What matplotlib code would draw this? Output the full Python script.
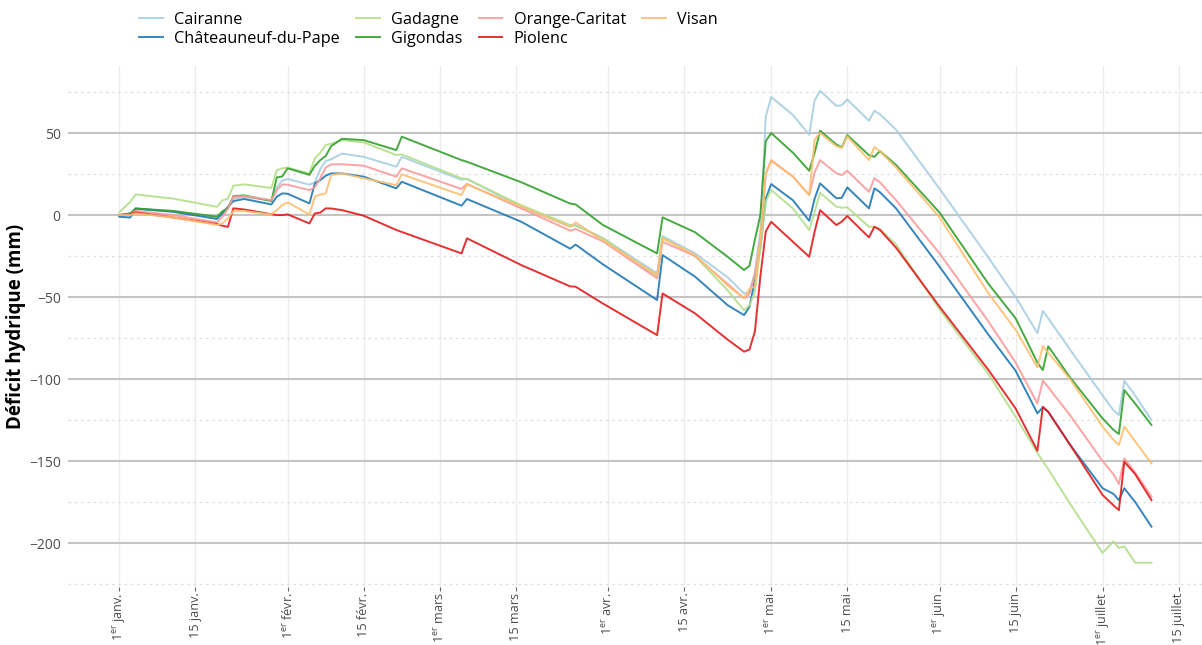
import numpy as np
import pandas as pd
import matplotlib
matplotlib.use("Agg")
import matplotlib.pyplot as plt
from matplotlib.lines import Line2D

plt.rcParams['font.family'] = ['Open Sans', 'DejaVu Sans']
plt.rcParams['mathtext.fontset'] = 'custom'
plt.rcParams['mathtext.rm'] = 'Open Sans'
plt.rcParams['mathtext.it'] = 'Open Sans:italic'

# days since 1 January (at the break points)
jours = [0, 2, 3, 10, 18, 19, 20, 21, 23, 28, 29, 30, 31, 35, 36, 37, 38, 39, 41, 45,
         51, 52, 63, 64, 74, 83, 84, 89, 99, 100, 106, 112, 115, 116, 117, 118, 119, 120,
         124, 127, 128, 129, 132, 133, 134, 138, 139, 140, 143, 151, 160, 165, 169, 170,
         171, 175, 181, 183, 184, 185, 187, 190]

cairanne = [0, 1, 3.5, 2, -1.5, 1, 5, 10, 11, 9, 17, 21, 22, 18.5, 20, 28, 33, 34, 37.5, 35.5,
            29.5, 35.5, 21.5, 22, 5, -7, -6, -14, -35.5, -12.8, -23.4, -38, -47.8, -47, -35, -10, 60, 72,
            61, 49, 70, 75.8, 66.5, 67, 70.5, 57.5, 63.6, 61.5, 52, 16, -26, -50, -72, -58.5,
            -63, -82, -110, -119, -122, -101, -110, -125]
chateauneuf = [-1, -1.5, 4, 2, -2.4, 1, 5, 8.5, 9.8, 6.5, 11.2, 13.2, 13, 7.1, 19.3, 21.3, 24, 25.4, 25.4, 23.4,
               16.3, 20.3, 5.7, 9.8, -4.1, -20.5, -18, -30, -51.8, -24.4, -37.6, -55, -61, -56, -39.6, -20, 10, 18.9,
               9, -3.5, 10, 19.3, 10.2, 10.5, 16.9, 4.1, 16.3, 14, 4, -31.5, -73, -95, -120.9, -117.3,
               -120, -140, -166.6, -170, -173.8, -166.6, -175, -190]
gadagne = [1.6, 8, 12.6, 10, 5, 9, 10, 17.9, 18.7, 16.5, 27.4, 28.5, 28.9, 25.4, 34.6, 38, 42.7, 43.5, 45.7, 44.3,
           36.6, 37, 22.4, 22, 6, -6.1, -6.5, -14, -37.6, -13.5, -25, -46, -58, -55, -46.7, -20, 8, 15.3,
           4, -9.1, 2, 13.6, 5.1, 4.5, 4.7, -7.1, -7.3, -8.5, -18, -57.5, -97, -123, -145, -150,
           -155, -176, -206, -199, -203, -202, -212, -212]
gigondas = [0, 1, 4, 2.5, -1, 2.4, 4, 11.5, 12, 8.5, 23, 23.5, 28.5, 24.5, 30, 33.5, 36, 42, 46.5, 45.7,
            39.6, 47.8, 33.5, 32.5, 20, 7, 6.5, -6, -23.4, -1.4, -10.5, -25.5, -33.5, -31, -15, 0, 45, 50,
            38, 27, 38, 51.4, 43, 41.3, 48.8, 36.5, 35.5, 39, 30.5, 1.5, -42, -63, -90, -94.5,
            -80, -99, -124, -131, -133.5, -106.7, -115, -128]
orange_caritat = [0, 0.5, 2.5, 0, -4.5, -1, 4, 11, 11.6, 9.1, 15.2, 18.7, 18.5, 15.2, 17, 22.4, 29, 30.9, 31, 30.1,
                  23.4, 28.5, 15.9, 19, 4, -9.5, -8.5, -16, -38.6, -16.3, -25, -42, -50.8, -48, -36, -15, 25, 33.5,
                  23.4, 12.2, 26, 33.5, 25.5, 24.4, 27, 14.2, 22.4, 20, 9, -23.4, -65, -90, -114.8, -101,
                  -105, -122, -150, -158, -164, -148.4, -157, -171.7]
piolenc = [0, 0.5, 1.6, -1.5, -5.5, -6.5, -7.2, 4.1, 3.4, 0.5, 0, 0, 0.4, -5.1, 1, 1.5, 4.1, 4, 3, -0.4,
           -9.1, -10.3, -23.4, -14.2, -30.5, -43.5, -43.7, -53.9, -73.2, -47.8, -60, -76, -83.3, -82, -71, -37.6, -10, -4.1,
           -16.3, -25.4, -10, 3, -6.1, -4, -0.6, -13.6, -7.1, -9, -20, -55.9, -94.5, -118, -143.7, -116.9,
           -120, -140, -170.7, -177, -179.9, -150.4, -158, -173.8]
visan = [0, 0, 1, -1.5, -6, -5, -2, 2.4, 2.4, 0.4, 3, 6.1, 7.7, 0.4, 11.2, 12.5, 13.2, 24.4, 25.4, 22.4,
         18.3, 24.8, 12.2, 18.7, 5.1, -7.1, -4.5, -15.4, -36.6, -14.2, -24.4, -43, -50.8, -45, -43.7, -15, 25, 33,
         23.5, 12.2, 46, 50, 42, 41, 48, 33.5, 41.5, 39, 29, -1.4, -47.8, -70, -92.9, -79.9,
         -84, -100, -129, -137, -140.2, -129, -138, -151.4]

noms = ['Cairanne', 'Châteauneuf-du-Pape', 'Gadagne', 'Gigondas', 'Orange-Caritat', 'Piolenc', 'Visan']
series = [cairanne, chateauneuf, gadagne, gigondas, orange_caritat, piolenc, visan]
couleurs = ['#A6CEE3', '#1F78B4', '#B2DF8A', '#33A02C', '#FB9A99', '#E31A1C', '#FDBF6F']

tick_dates = ['2023-01-01', '2023-01-15', '2023-02-01', '2023-02-15', '2023-03-01', '2023-03-15',
              '2023-04-01', '2023-04-15', '2023-05-01', '2023-05-15', '2023-06-01', '2023-06-15',
              '2023-07-01', '2023-07-15']
tick_labels = ['1$^{\\mathrm{er}}$ janv.', '15 janv.', '1$^{\\mathrm{er}}$ févr.', '15 févr.',
               '1$^{\\mathrm{er}}$ mars', '15 mars', '1$^{\\mathrm{er}}$ avr.', '15 avr.',
               '1$^{\\mathrm{er}}$ mai', '15 mai', '1$^{\\mathrm{er}}$ juin', '15 juin',
               '1$^{\\mathrm{er}}$ juillet', '15 juillet']

debut = pd.Timestamp('2023-01-01')
dates = debut + pd.to_timedelta(jours, unit='D')

fig = plt.figure(figsize=(12.02, 6.45), dpi=100)
ax = fig.add_axes([0.0563, 0.0899, 0.9437, 0.8078])

for nom, vals, c in zip(noms, series, couleurs):
    ax.plot(dates, vals, color=c, linewidth=1.4, alpha=0.9, label=nom, zorder=3)

ax.set_xlim(debut - pd.Timedelta(days=9.5), debut + pd.Timedelta(days=199.3))
ax.set_ylim(-226.8, 90.9)

ax.set_xticks(pd.to_datetime(tick_dates))
ax.set_xticklabels(tick_labels, rotation=90, ha='center', va='top')
ax.set_yticks([-200, -150, -100, -50, 0, 50])
ax.set_yticks([-225, -175, -125, -75, -25, 25, 75], minor=True)
ax.set_xticks([], minor=True)

ax.grid(axis='y', which='major', color='#C4C4C4', linewidth=1.5, zorder=0)
ax.grid(axis='y', which='minor', color='#DDDDDD', linewidth=0.9, linestyle=(0, (2, 3)), zorder=0)
ax.grid(axis='x', which='major', color='#EBEBEB', linewidth=0.9, zorder=0)

for s in ax.spines.values():
    s.set_visible(False)
ax.tick_params(axis='x', which='major', length=3, width=0.8, color='#666666',
               labelsize=9.1, labelcolor='#4D4D4D', pad=1)
ax.tick_params(axis='y', which='both', length=0, labelsize=10, labelcolor='#4D4D4D', pad=5)

ax.set_ylabel('Déficit hydrique (mm)', fontsize=13.5, fontweight='bold', labelpad=2)

handles = [Line2D([0], [0], color=c, linewidth=1.4, alpha=0.9) for c in couleurs]
fig.legend(handles, noms, ncol=4, loc='upper left', bbox_to_anchor=(0.116, 0.982),
           frameon=False, fontsize=11.7, handlelength=1.45, handletextpad=0.7,
           columnspacing=1.0, labelspacing=0.2, borderpad=0, borderaxespad=0)

fig.savefig('out.png', dpi=100)
